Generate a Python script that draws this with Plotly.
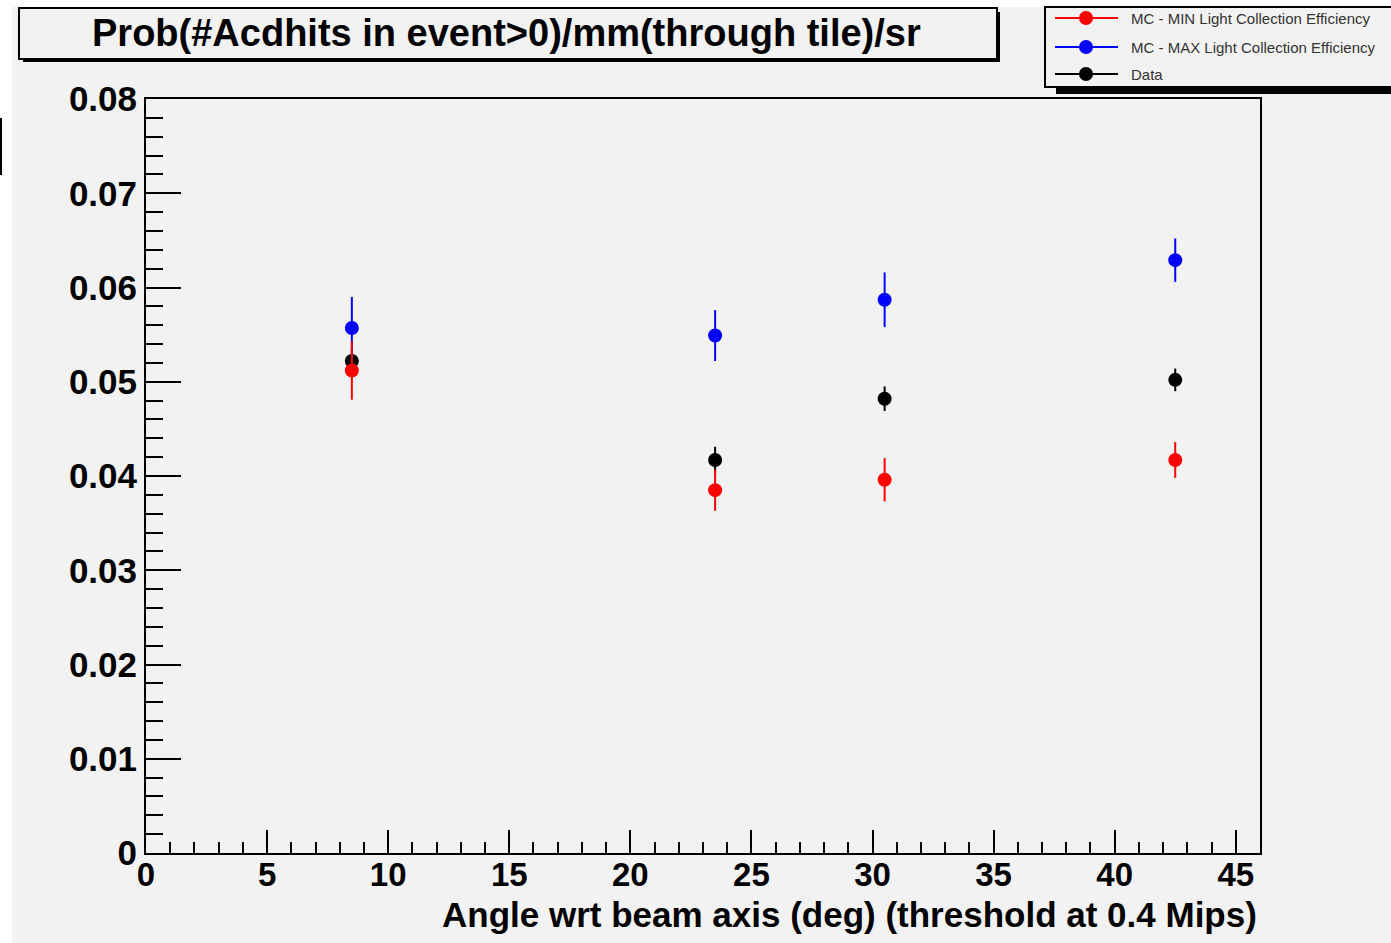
import plotly.graph_objects as go

# ---- data ----
angles = [8.5, 23.5, 30.5, 42.5]
mc_min = [0.0512, 0.0385, 0.0396, 0.0417]
mc_min_err = [0.0031, 0.0022, 0.0023, 0.0019]
mc_max = [0.0557, 0.0549, 0.0587, 0.0629]
mc_max_err = [0.0033, 0.0027, 0.0029, 0.0023]
data_vals = [0.0522, 0.0417, 0.0482, 0.0502]
data_err = [0.0013, 0.0014, 0.0013, 0.0012]

series_names = ["MC - MIN Light Collection Efficiency",
                "MC - MAX Light Collection Efficiency",
                "Data"]
series_colors = ["#ff0000", "#0000ff", "#000000"]

x_tickvals = [0, 5, 10, 15, 20, 25, 30, 35, 40, 45]
x_ticktext = ["0", "5", "10", "15", "20", "25", "30", "35", "40", "45"]
y_tickvals = [0, 0.01, 0.02, 0.03, 0.04, 0.05, 0.06, 0.07, 0.08]
y_ticktext = ["0", "0.01", "0.02", "0.03", "0.04", "0.05", "0.06", "0.07", "0.08"]

title_text = "Prob(#Acdhits in event>0)/mm(through tile)/sr"
xtitle_text = "Angle wrt beam axis (deg) (threshold at 0.4 Mips)"

W, H = 1391, 943
L, R, T, B = 146, 1260, 99, 853
BG = "#f2f2f2"
FONT = "Liberation Sans"


def X(px):
    return (px - L) / (R - L)


def Y(py):
    return (B - py) / (B - T)


fig = go.Figure()


def add_series(x, y, e, color, name):
    fig.add_trace(go.Scatter(
        x=x, y=y, mode="markers", name=name, showlegend=False,
        marker=dict(color=color, size=14, symbol="circle"),
        error_y=dict(type="data", array=e, visible=True, width=0,
                     thickness=2, color=color),
    ))


add_series(angles, data_vals, data_err, series_colors[2], series_names[2])
add_series(angles, mc_max, mc_max_err, series_colors[1], series_names[1])
add_series(angles, mc_min, mc_min_err, series_colors[0], series_names[0])

shapes = []
# white strips at top and left of the canvas
shapes.append(dict(type="rect", xref="paper", yref="paper", layer="below",
                   x0=X(0), x1=X(W + 5), y0=Y(-5), y1=Y(7),
                   fillcolor="white", line=dict(width=0)))
shapes.append(dict(type="rect", xref="paper", yref="paper", layer="below",
                   x0=X(-5), x1=X(12), y0=Y(H + 5), y1=Y(-5),
                   fillcolor="white", line=dict(width=0)))
# stray line at far left
shapes.append(dict(type="line", xref="paper", yref="paper",
                   x0=X(1), x1=X(1), y0=Y(118), y1=Y(175),
                   line=dict(color="black", width=2)))
# title box with shadow
shapes.append(dict(type="rect", xref="paper", yref="paper",
                   x0=X(23), x1=X(1000), y0=Y(62), y1=Y(12),
                   fillcolor="black", line=dict(width=0)))
shapes.append(dict(type="rect", xref="paper", yref="paper",
                   x0=X(19), x1=X(997), y0=Y(59), y1=Y(8),
                   fillcolor=BG, line=dict(color="black", width=2)))
# legend box with shadow
shapes.append(dict(type="rect", xref="paper", yref="paper",
                   x0=X(1056), x1=X(1400), y0=Y(94), y1=Y(20),
                   fillcolor="black", line=dict(width=0)))
shapes.append(dict(type="rect", xref="paper", yref="paper",
                   x0=X(1045), x1=X(1400), y0=Y(87), y1=Y(7),
                   fillcolor=BG, line=dict(color="black", width=2)))

annotations = []
leg_y = [18, 47, 74]
for name, col, ly in zip(series_names, series_colors, leg_y):
    shapes.append(dict(type="line", xref="paper", yref="paper",
                       x0=X(1055), x1=X(1118), y0=Y(ly), y1=Y(ly),
                       line=dict(color=col, width=2)))
    shapes.append(dict(type="circle", xref="paper", yref="paper",
                       xsizemode="pixel", ysizemode="pixel",
                       xanchor=X(1086), yanchor=Y(ly),
                       x0=-7, x1=7, y0=-7, y1=7,
                       fillcolor=col, line=dict(color=col, width=0)))
    annotations.append(dict(xref="paper", yref="paper", x=X(1129), y=Y(ly),
                            xanchor="left", yanchor="middle", showarrow=False,
                            text=name,
                            font=dict(family=FONT, size=15, color="#333333")))

annotations.append(dict(xref="paper", yref="paper", x=X(506), y=Y(33),
                        xanchor="center", yanchor="middle", showarrow=False,
                        text=title_text,
                        font=dict(family=FONT, size=38, color="black",
                                  weight="bold")))
annotations.append(dict(xref="paper", yref="paper", x=X(1259), y=Y(914),
                        xanchor="right", yanchor="middle", showarrow=False,
                        text=xtitle_text,
                        font=dict(family=FONT, size=35, color="black",
                                  weight="bold")))

fig.update_layout(
    width=W, height=H,
    margin=dict(l=L, r=W - R, t=T, b=H - B, autoexpand=False),
    paper_bgcolor=BG, plot_bgcolor=BG,
    shapes=shapes, annotations=annotations,
    showlegend=False,
)

fig.update_xaxes(
    range=[0, 46], showgrid=False, zeroline=False,
    showline=True, linecolor="black", linewidth=2, mirror=True,
    ticks="inside", ticklen=23, tickwidth=2, tickcolor="black",
    tickmode="array", tickvals=x_tickvals, ticktext=x_ticktext,
    minor=dict(ticks="inside", ticklen=11, tickwidth=2, tickcolor="black",
               dtick=1, tick0=0, showgrid=False),
    tickfont=dict(family=FONT, size=33, color="black", weight="bold"),
    ticklabelstandoff=-9,
)
fig.update_yaxes(
    range=[0, 0.08], showgrid=False, zeroline=False,
    showline=True, linecolor="black", linewidth=2, mirror=True,
    ticks="inside", ticklen=35, tickwidth=2, tickcolor="black",
    tickmode="array", tickvals=y_tickvals, ticktext=y_ticktext,
    minor=dict(ticks="inside", ticklen=17, tickwidth=2, tickcolor="black",
               dtick=0.002, tick0=0, showgrid=False),
    tickfont=dict(family=FONT, size=35, color="black", weight="bold"),
    ticklabelstandoff=0,
)

fig.write_html("out.html")
